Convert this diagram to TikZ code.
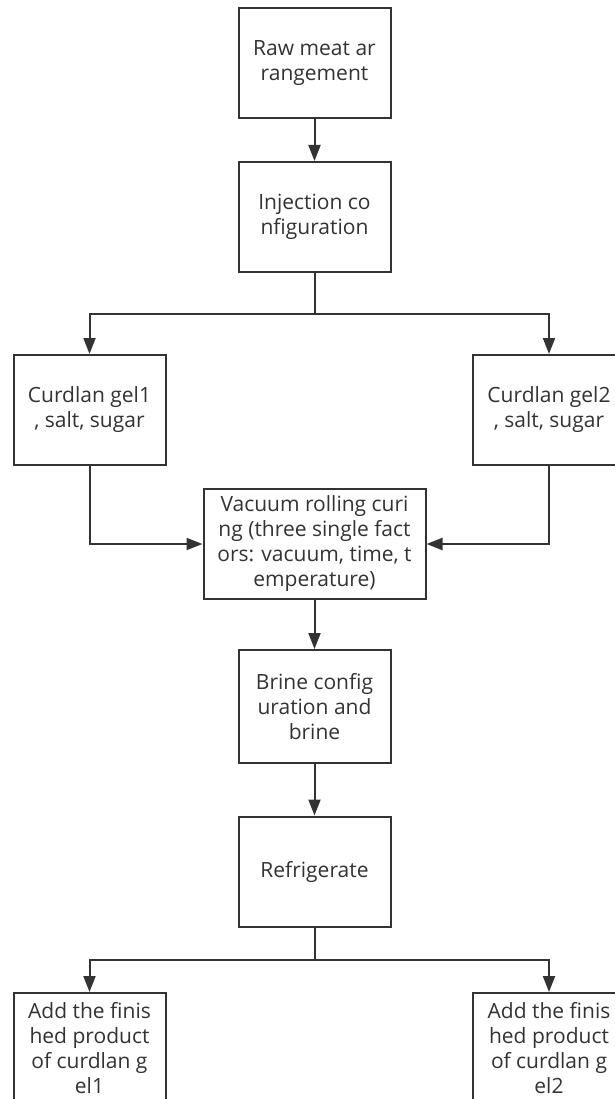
\documentclass[tikz,border=0pt]{standalone}
\usepackage{fontspec}
\setmainfont{Open Sans}
\usetikzlibrary{arrows.meta}
\definecolor{trait}{HTML}{333333}

\def\boxw{152}
\def\boxh{110}

\begin{document}
\begin{tikzpicture}[x=1pt,y=-1pt]
\tikzstyle{boite}=[draw=trait,line width=2pt,rectangle,fill=white,minimum width=\boxw pt,minimum height=\boxh pt,inner sep=0pt,align=center,text=trait,font=\fontsize{21}{25}\selectfont]
\tikzstyle{arc}=[-,draw=trait,line width=2pt]
\tikzstyle{fleche}=[-{Triangle[length=16pt,width=12pt]},draw=trait,line width=2pt]

\useasboundingbox (0,0) rectangle (614,1099);

\def\xc{314.5}
\def\xg{89.5}
\def\xd{549}

\node[boite] (raw) at (\xc,63) {Raw meat ar\\rangement};
\node[boite] (inj) at (\xc,217) {Injection co\\nfiguration};
\node[boite] (cur1) at (\xg,410) {Curdlan gel1\\, salt, sugar};
\node[boite] (cur2) at (\xd,410) {Curdlan gel2\\, salt, sugar};
\node[boite,minimum width=222pt] (vac) at (\xc,544) {Vacuum rolling curi\\ng (three single fact\\ors: vacuum, time, t\\emperature)};
\node[boite,minimum height=113pt] (brine) at (\xc,706.5) {Brine config\\uration and\\brine};
\node[boite] (refr) at (\xc,871.5) {Refrigerate};
\node[boite] (add1) at (\xg,1048) {Add the finis\\hed product\\of curdlan g\\el1};
\node[boite] (add2) at (\xd,1048) {Add the finis\\hed product\\of curdlan g\\el2};

\coordinate (b1) at (\xc,314);
\coordinate (b2) at (\xc,960);

\draw[fleche] (raw)--(inj) ;
\draw[arc] (inj)--(b1) ;
\draw[fleche] (b1) -| (cur1) ;
\draw[fleche] (b1) -| (cur2) ;
\draw[fleche] (cur1) |- (vac) ;
\draw[fleche] (cur2) |- (vac) ;
\draw[fleche] (vac)--(brine) ;
\draw[fleche] (brine)--(refr) ;
\draw[arc] (refr)--(b2) ;
\draw[fleche] (b2) -| (add1) ;
\draw[fleche] (b2) -| (add2) ;

\end{tikzpicture}
\end{document}
